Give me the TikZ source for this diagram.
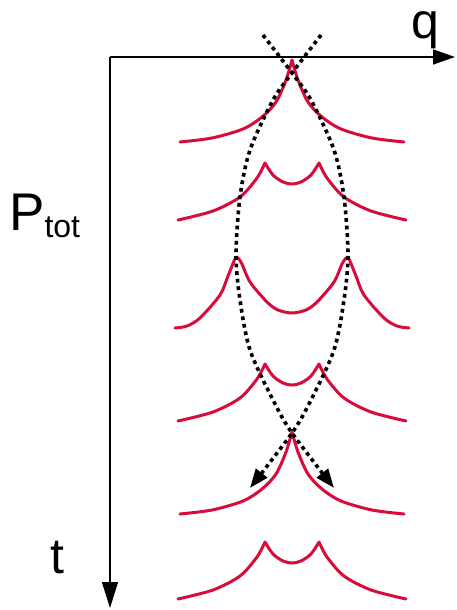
\documentclass[tikz,border=0pt]{standalone}
\usepackage{fontspec}
\setmainfont{Liberation Sans}
\usetikzlibrary{arrows.meta}
\definecolor{prof}{RGB}{216,12,58}
\tikzset{
  axis/.style={line width=1.4pt,draw=black},
  profile/.style={draw=prof,line width=3pt,line join=round,line cap=round},
  traj/.style={draw=black,line width=3.6pt,dash pattern=on 3.8pt off 3.8pt,
    -{Triangle[length=19pt,width=14pt]}},
  lbl/.style={inner sep=0pt,font=\fontsize{50}{60}\selectfont},
  singlepk/.pic={
    \path[profile] plot[smooth] coordinates {(-112,0) (-80,-4) (-49,-13) (-30,-25) (-16,-40) (-6,-62) (0,-82)}
      plot[smooth] coordinates {(0,-82) (6,-62) (16,-40) (30,-25) (49,-13) (80,-4) (112,0)};
  },
  doublesm/.pic={
    \path[profile] plot[smooth] coordinates {(-114,0) (-79,-9) (-52,-23) (-35,-42) (-27,-57)}
      plot[smooth] coordinates {(-27,-57) (-19,-45) (-9,-38) (0,-36) (9,-38) (19,-45) (27,-57)}
      plot[smooth] coordinates {(27,-57) (35,-42) (52,-23) (79,-9) (114,0)};
  },
  doublewd/.pic={
    \path[profile] plot[smooth] coordinates {(-117,0) (-105,-2) (-92,-10) (-72,-33) (-64,-52) (-57,-69) (-54,-70)}
      plot[smooth] coordinates {(-54,-70) (-50,-64) (-42,-46) (-25,-26) (-14,-18) (0,-15) (14,-18) (25,-26) (42,-46) (50,-64) (54,-70)}
      plot[smooth] coordinates {(54,-70) (57,-69) (64,-52) (72,-33) (92,-10) (105,-2) (117,0)};
  }
}
\begin{document}
\begin{tikzpicture}[x=1pt,y=-1pt]
\useasboundingbox (0,0) rectangle (457,610);
% axes
\coordinate (O) at (110,57);
\coordinate (qend) at (455,57);
\coordinate (tend) at (110,608);
\draw[axis,-{Triangle[length=22pt,width=15pt]}] (O) -- (qend);
\draw[axis,-{Triangle[length=26pt,width=16pt]}] (O) -- (tend);
% labels
\node[lbl,anchor=base] (q) at (425,38) {q};
\node[lbl,anchor=base west] (P) at (9,230) {\fontsize{53}{60}\selectfont P\raisebox{-7pt}{\fontsize{32}{36}\selectfont tot}};
\node[lbl,anchor=base] (t) at (57,573) {t};
% profiles
\pic at (292,142) {singlepk};
\pic at (292,220) {doublesm};
\pic at (292,328) {doublewd};
\pic at (292,421) {doublesm};
\pic at (292,514) {singlepk};
\pic at (292,599) {doublesm};
% trajectories
\draw[traj] plot[smooth] coordinates {(263,35) (292,73) (311,100) (334,150) (344,197) (348,255) (344,300) (334,350) (311,400) (292,433) (250,488)};
\draw[traj] plot[smooth] coordinates {(321,35) (292,73) (273,100) (250,150) (240,197) (236,255) (240,300) (250,350) (273,400) (292,433) (334,488)};
\end{tikzpicture}
\end{document}
